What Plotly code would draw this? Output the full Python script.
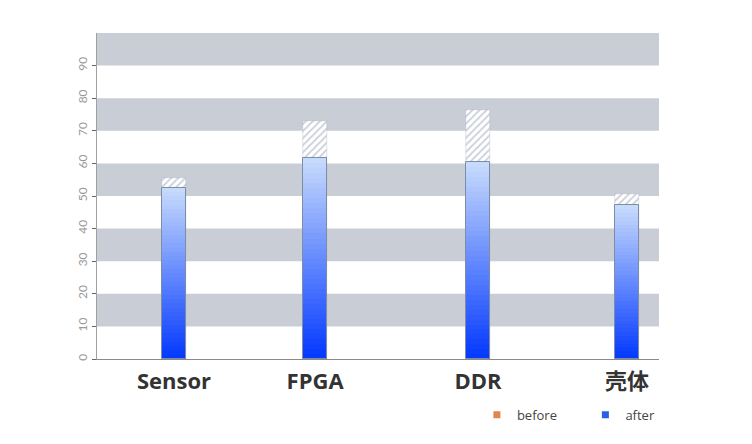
import plotly.graph_objects as go

categories = ["Sensor", "FPGA", "DDR", "壳体"]
before_values = [55.5, 73.0, 76.5, 50.6]
after_values = [52.6, 61.6, 60.4, 47.1]
y_ticks = [0, 10, 20, 30, 40, 50, 60, 70, 80, 90]

# uneven horizontal placement of categories (axis units, range 0..10)
cat_pos = [1.37, 3.88, 6.78, 9.43]
BAR_W = 0.43
N_SEG = 40

fig = go.Figure()

# before: hatched bars behind
fig.add_trace(go.Bar(
    x=cat_pos, y=before_values, width=BAR_W, showlegend=False,
    marker=dict(color="white", line=dict(color="rgba(150,160,180,0.6)", width=0.5),
                pattern=dict(shape="/", fgcolor="#98a2b4", bgcolor="white", size=5, solidity=0.35)),
    hoverinfo="skip",
))

# after: vertical gradient built from stacked overlapping segments
top = (198, 218, 252)
bot = (5, 58, 255)
for i in range(N_SEG):
    t = i / (N_SEG - 1)
    c = tuple(round(bot[k] + (top[k] - bot[k]) * t) for k in range(3))
    fig.add_trace(go.Bar(
        x=cat_pos,
        base=[v * i / N_SEG for v in after_values],
        y=[v * (1 - i / N_SEG) for v in after_values],
        width=BAR_W, showlegend=False, hoverinfo="skip",
        marker=dict(color="rgb(%d,%d,%d)" % c, line=dict(width=0)),
    ))

# outline
fig.add_trace(go.Bar(
    x=cat_pos, y=after_values, width=BAR_W, showlegend=False,
    marker=dict(color="rgba(0,0,0,0)", line=dict(color="#7d8da6", width=1)),
    hovertext=categories,
))

# legend entries
fig.add_trace(go.Scatter(x=[None], y=[None], mode="markers", name="before",
                         marker=dict(symbol="square", size=7, color="#e0874f"), legend="legend"))
fig.add_trace(go.Scatter(x=[None], y=[None], mode="markers", name="after",
                         marker=dict(symbol="square", size=7, color="#2a5fe6"), legend="legend2"))

# alternating gray bands
shapes = []
for lo in range(10, 100, 20):
    shapes.append(dict(type="rect", xref="paper", yref="y", x0=0, x1=1, y0=lo, y1=lo + 10,
                       fillcolor="#c9cdd6", line=dict(width=0), layer="below"))

fig.update_layout(
    width=752, height=444,
    margin=dict(l=89, r=101, t=25, b=93),
    paper_bgcolor="white", plot_bgcolor="white",
    barmode="overlay",
    bargap=0,
    shapes=shapes,
    font=dict(family="Open Sans, Noto Sans CJK SC, sans-serif"),
    legend=dict(x=0.676, y=-0.125, xanchor="left", yanchor="top", orientation="h",
                font=dict(size=13, color="#444"), bgcolor="rgba(0,0,0,0)"),
    legend2=dict(x=0.869, y=-0.125, xanchor="left", yanchor="top", orientation="h",
                 font=dict(size=13, color="#444"), bgcolor="rgba(0,0,0,0)"),
)
fig.update_xaxes(
    range=[0, 10], tickmode="array", tickvals=cat_pos, ticktext=categories,
    showgrid=False, zeroline=False, showline=True, linecolor="#8a8a8a", linewidth=1,
    ticks="", ticklabelstandoff=3,
    tickfont=dict(size=22, color="#333", family="Open Sans, Noto Sans CJK SC, sans-serif",
                  weight="bold"),
    fixedrange=True,
)
fig.update_yaxes(
    range=[0, 100], tickmode="array", tickvals=y_ticks, tickangle=-90,
    showgrid=False, zeroline=False, showline=True, linecolor="#a0a0a0", linewidth=1,
    ticks="outside", ticklen=4, tickcolor="#666",
    tickfont=dict(size=12, color="#999", family="Lato, Open Sans, sans-serif"),
)

fig.write_html("out.html")
